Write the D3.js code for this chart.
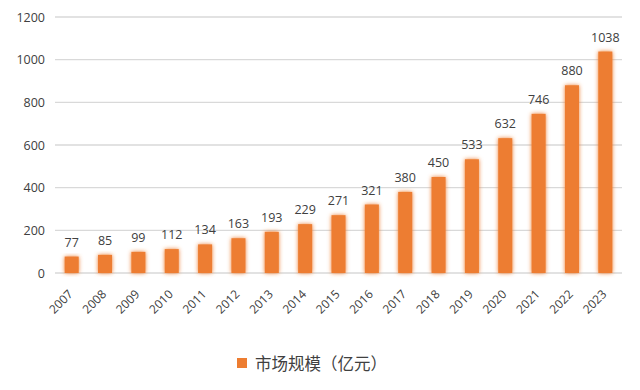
<!DOCTYPE html>
<html><head><meta charset="utf-8">
<script src="https://cdn.jsdelivr.net/npm/d3@7"></script>
<style>body{margin:0;background:#fff}svg{display:block}</style>
</head><body>
<svg id="c" width="640" height="390"></svg>
<script>
const years = ["2007","2008","2009","2010","2011","2012","2013","2014","2015","2016","2017","2018","2019","2020","2021","2022","2023"];
const values = [77,85,99,112,134,163,193,229,271,321,380,450,533,632,746,880,1038];
const yTicks = [0,200,400,600,800,1000,1200];
const seriesName = "市场规模（亿元）";

const svg = d3.select("#c");
const font = "'Open Sans','Noto Sans CJK SC',sans-serif";
const x = d3.scaleBand().domain(years).range([55, 622]).paddingInner(0.58).paddingOuter(0.29);
const y = d3.scaleLinear().domain([0,1200]).range([273, 17]);

const defs = svg.append("defs");
const f = defs.append("filter").attr("id","glow").attr("x","-50%").attr("y","-20%").attr("width","200%").attr("height","140%");
f.append("feGaussianBlur").attr("in","SourceGraphic").attr("stdDeviation","2.2").attr("result","b");
f.append("feMerge").selectAll("feMergeNode").data(["b","SourceGraphic"]).join("feMergeNode").attr("in",d=>d);

// gridlines
svg.append("g").selectAll("line").data(yTicks).join("line")
  .attr("x1",55).attr("x2",622).attr("y1",d=>y(d)).attr("y2",d=>y(d))
  .attr("stroke","#d9d9d9").attr("stroke-width",1.3);

// y axis labels
const yAxis = d3.axisLeft(y).tickValues(yTicks).tickFormat(d3.format("d")).tickSize(0).tickPadding(0);
const ga = svg.append("g").attr("transform","translate(45,0)").call(yAxis);
ga.select(".domain").remove();
ga.selectAll("text").attr("font-family",font).attr("font-size",12.5).attr("fill","#404040");

// bars
svg.append("g").selectAll("rect").data(values).join("rect")
  .attr("x",(d,i)=>x(years[i])).attr("width",x.bandwidth())
  .attr("y",d=>y(d)).attr("height",d=>y(0)-y(d))
  .attr("fill","#ED7D31").attr("filter","url(#glow)");

// value labels
svg.append("g").selectAll("text").data(values).join("text")
  .attr("x",(d,i)=>x(years[i])+x.bandwidth()/2).attr("y",d=>y(d)-10)
  .attr("text-anchor","middle").attr("font-family",font).attr("font-size",12.5).attr("fill","#404040")
  .text(d=>d);

// x labels
const xAxis = d3.axisBottom(x).tickSize(0).tickPadding(0);
const gx = svg.append("g").attr("transform","translate(0,"+y(0)+")").call(xAxis);
gx.select(".domain").remove();
gx.selectAll("text").attr("font-family",font).attr("font-size",12).attr("fill","#404040")
  .attr("text-anchor","end").attr("dy",0).attr("transform","translate(2,22) rotate(-45)");

// legend
const lg = svg.append("g");
lg.append("rect").attr("x",237).attr("y",358).attr("width",10).attr("height",10).attr("fill","#ED7D31");
lg.append("text").attr("x",255).attr("y",370).attr("font-family","'Noto Sans CJK SC',sans-serif").attr("font-size",16.5).attr("fill","#404040").text(seriesName);
</script>
</body></html>
